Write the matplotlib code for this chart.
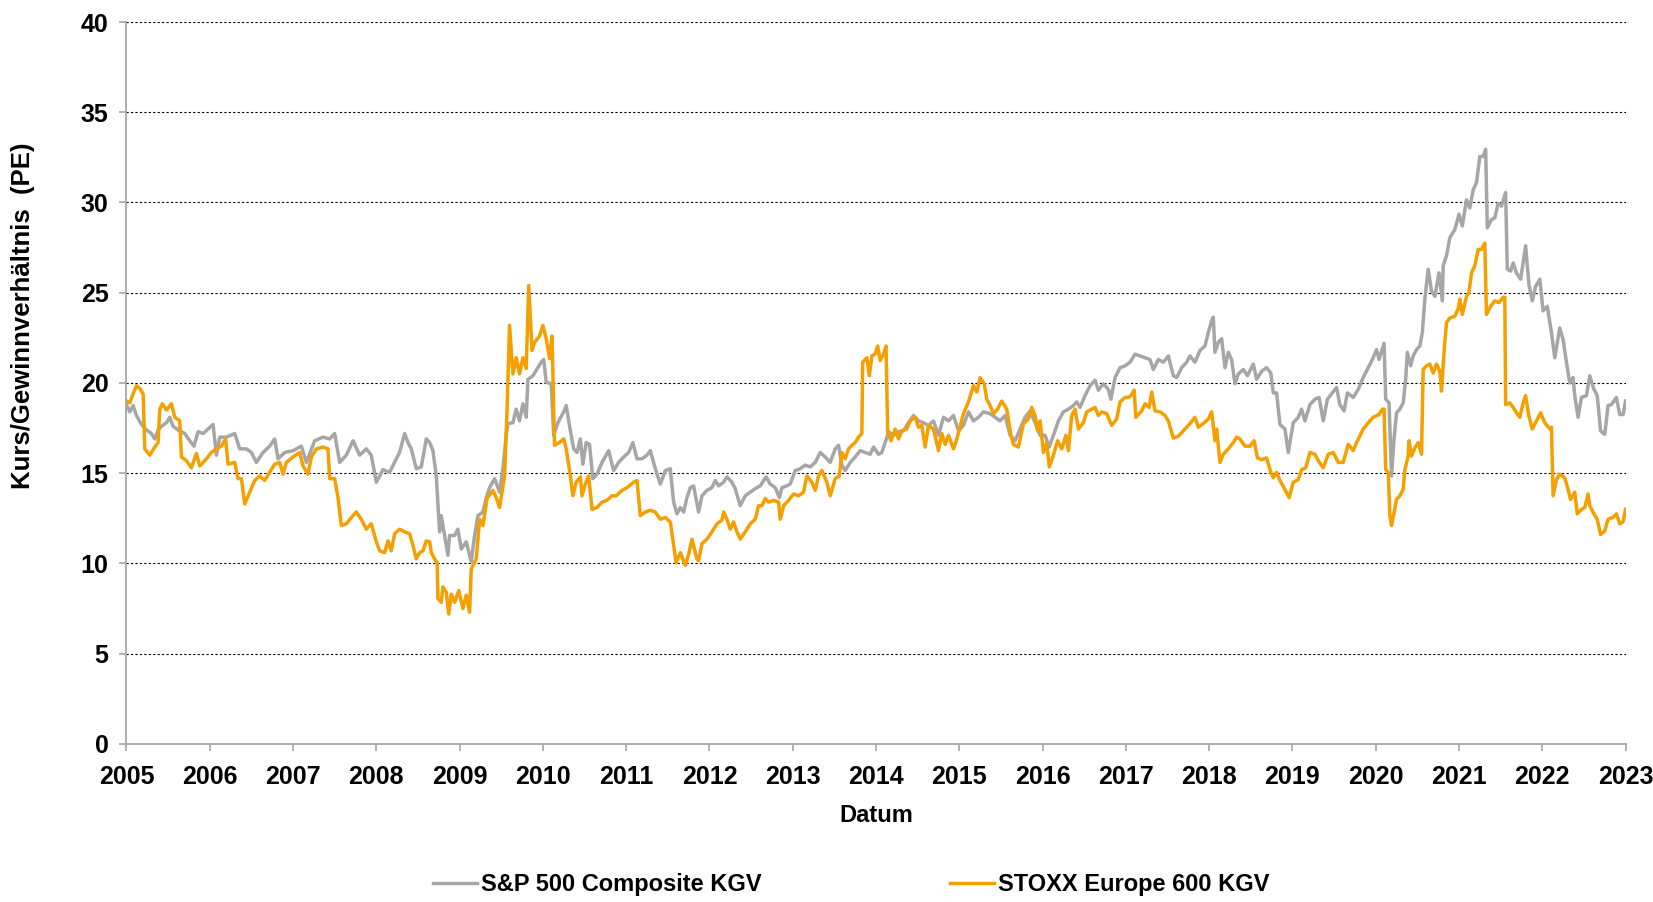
# KGV comparison S&P 500 vs STOXX Europe 600, 2005-2023
# line chart, decimal years on the x axis

import matplotlib
matplotlib.use('Agg')
import matplotlib.pyplot as plt
from matplotlib import font_manager

# S&P 500 Composite KGV
sp_years = [
    2005.00, 2005.04, 2005.08, 2005.12, 2005.18, 2005.24, 2005.30, 2005.34, 2005.38, 2005.42,
    2005.48, 2005.52, 2005.56, 2005.62, 2005.70, 2005.76, 2005.81, 2005.86, 2005.92, 2005.98,
    2006.04, 2006.08, 2006.12, 2006.20, 2006.30, 2006.36, 2006.44, 2006.50, 2006.56, 2006.64,
    2006.72, 2006.78, 2006.82, 2006.90, 2007.00, 2007.10, 2007.16, 2007.26, 2007.36, 2007.44,
    2007.50, 2007.56, 2007.64, 2007.72, 2007.80, 2007.88, 2007.94, 2008.00, 2008.08, 2008.16,
    2008.24, 2008.28, 2008.34, 2008.38, 2008.42, 2008.48, 2008.54, 2008.60, 2008.64, 2008.68,
    2008.72, 2008.76, 2008.78, 2008.82, 2008.86, 2008.88, 2008.94, 2008.98, 2009.02, 2009.08,
    2009.14, 2009.18, 2009.22, 2009.28, 2009.32, 2009.36, 2009.42, 2009.48, 2009.52, 2009.56,
    2009.58, 2009.64, 2009.68, 2009.72, 2009.76, 2009.80, 2009.82, 2009.88, 2009.94, 2009.98,
    2010.01, 2010.04, 2010.10, 2010.13, 2010.18, 2010.25, 2010.28, 2010.33, 2010.37, 2010.41,
    2010.45, 2010.48, 2010.52, 2010.56, 2010.60, 2010.65, 2010.71, 2010.79, 2010.85, 2010.91,
    2010.97, 2011.03, 2011.08, 2011.13, 2011.19, 2011.25, 2011.29, 2011.35, 2011.41, 2011.47,
    2011.53, 2011.57, 2011.61, 2011.65, 2011.69, 2011.73, 2011.77, 2011.81, 2011.87, 2011.91,
    2011.97, 2012.03, 2012.07, 2012.11, 2012.17, 2012.21, 2012.27, 2012.31, 2012.37, 2012.43,
    2012.49, 2012.55, 2012.61, 2012.68, 2012.73, 2012.79, 2012.84, 2012.87, 2012.93, 2012.97,
    2013.03, 2013.09, 2013.15, 2013.21, 2013.27, 2013.33, 2013.39, 2013.45, 2013.51, 2013.55,
    2013.59, 2013.63, 2013.69, 2013.75, 2013.81, 2013.87, 2013.93, 2013.97, 2014.03, 2014.07,
    2014.11, 2014.15, 2014.21, 2014.27, 2014.33, 2014.39, 2014.45, 2014.51, 2014.57, 2014.63,
    2014.69, 2014.75, 2014.81, 2014.87, 2014.93, 2014.99, 2015.05, 2015.11, 2015.17, 2015.23,
    2015.29, 2015.37, 2015.43, 2015.49, 2015.55, 2015.61, 2015.67, 2015.73, 2015.79, 2015.85,
    2015.91, 2015.97, 2016.03, 2016.08, 2016.13, 2016.19, 2016.25, 2016.31, 2016.37, 2016.41,
    2016.45, 2016.51, 2016.57, 2016.63, 2016.67, 2016.73, 2016.79, 2016.82, 2016.87, 2016.93,
    2016.99, 2017.05, 2017.11, 2017.17, 2017.23, 2017.29, 2017.33, 2017.39, 2017.45, 2017.51,
    2017.57, 2017.61, 2017.67, 2017.73, 2017.77, 2017.83, 2017.89, 2017.95, 2017.99, 2018.03,
    2018.05, 2018.07, 2018.11, 2018.15, 2018.19, 2018.23, 2018.27, 2018.31, 2018.35, 2018.41,
    2018.46, 2018.53, 2018.57, 2018.63, 2018.69, 2018.74, 2018.77, 2018.81, 2018.85, 2018.91,
    2018.95, 2019.01, 2019.07, 2019.11, 2019.15, 2019.21, 2019.27, 2019.32, 2019.37, 2019.42,
    2019.48, 2019.53, 2019.57, 2019.62, 2019.66, 2019.73, 2019.79, 2019.85, 2019.91, 2019.97,
    2020.01, 2020.04, 2020.10, 2020.12, 2020.16, 2020.19, 2020.22, 2020.25, 2020.29, 2020.33,
    2020.36, 2020.38, 2020.42, 2020.45, 2020.49, 2020.53, 2020.56, 2020.59, 2020.63, 2020.67,
    2020.71, 2020.76, 2020.80, 2020.81, 2020.85, 2020.89, 2020.95, 2021.00, 2021.04, 2021.09,
    2021.13, 2021.17, 2021.21, 2021.25, 2021.29, 2021.32, 2021.34, 2021.39, 2021.43, 2021.47,
    2021.51, 2021.56, 2021.58, 2021.62, 2021.65, 2021.69, 2021.74, 2021.80, 2021.84, 2021.88,
    2021.92, 2021.97, 2022.01, 2022.06, 2022.11, 2022.15, 2022.21, 2022.25, 2022.29, 2022.33,
    2022.37, 2022.39, 2022.43, 2022.47, 2022.53, 2022.57, 2022.62, 2022.66, 2022.70, 2022.75,
    2022.79, 2022.83, 2022.89, 2022.93, 2022.97, 2023.00,
]
sp_pe = [
    18.8, 18.4, 18.75, 18.2, 17.7, 17.4, 17.2, 16.9, 17.4, 17.6,
    17.8, 18.1, 17.6, 17.4, 17.2, 16.8, 16.5, 17.3, 17.2, 17.45,
    17.7, 16.0, 17.0, 17.0, 17.2, 16.35, 16.35, 16.15, 15.6, 16.15,
    16.5, 16.9, 15.8, 16.15, 16.25, 16.5, 15.6, 16.8, 17.0, 16.9,
    17.2, 15.6, 16.0, 16.8, 16.0, 16.35, 16.0, 14.5, 15.2, 15.05,
    15.8, 16.16, 17.2, 16.7, 16.35, 15.25, 15.35, 16.9, 16.7, 16.25,
    14.85, 11.75, 12.65, 11.55, 10.45, 11.55, 11.55, 11.9, 10.8, 11.2,
    10.1, 11.55, 12.65, 12.85, 13.65, 14.2, 14.7, 13.95, 15.25, 17.1,
    17.75, 17.8, 18.55, 17.9, 18.85, 18.1, 20.2, 20.4, 20.85, 21.15,
    21.3, 20.05, 19.95, 17.1, 17.8, 18.4, 18.75, 17.35, 16.35, 16.15,
    16.9, 15.5, 16.7, 16.6, 14.7, 14.95, 15.6, 16.25, 15.15, 15.6,
    15.9, 16.15, 16.7, 15.8, 15.8, 16.0, 16.25, 15.25, 14.4, 15.15,
    15.25, 13.4, 12.75, 13.1, 12.85, 13.65, 14.2, 14.3, 12.85, 13.75,
    14.05, 14.2, 14.6, 14.3, 14.5, 14.8, 14.5, 14.15, 13.2, 13.75,
    13.95, 14.15, 14.3, 14.8, 14.4, 14.2, 13.65, 14.2, 14.3, 14.4,
    15.15, 15.25, 15.45, 15.35, 15.6, 16.15, 15.9, 15.6, 16.35, 16.55,
    15.45, 15.15, 15.6, 15.9, 16.25, 16.15, 16.05, 16.45, 16.05, 16.15,
    16.7, 17.3, 17.1, 17.3, 17.35, 17.8, 18.2, 17.9, 17.8, 17.65,
    17.9, 17.1, 18.1, 17.9, 18.2, 17.35, 17.65, 18.4, 17.9, 18.1,
    18.4, 18.3, 18.1, 17.9, 18.2, 17.1, 16.8, 17.45, 18.1, 18.45,
    17.8, 17.1, 17.1, 16.45, 17.1, 17.9, 18.4, 18.55, 18.75, 18.95,
    18.65, 19.3, 19.85, 20.15, 19.6, 19.95, 19.65, 19.1, 20.3, 20.85,
    20.95, 21.15, 21.6, 21.5, 21.4, 21.3, 20.75, 21.3, 21.15, 21.5,
    20.4, 20.3, 20.85, 21.15, 21.5, 21.15, 21.8, 22.05, 22.8, 23.45,
    23.65, 21.7, 22.25, 22.45, 20.85, 21.7, 21.3, 19.95, 20.5, 20.75,
    20.4, 21.05, 20.2, 20.65, 20.85, 20.55, 19.45, 19.45, 17.7, 17.45,
    16.15, 17.8, 18.1, 18.55, 17.9, 18.8, 19.1, 19.2, 17.9, 19.1,
    19.45, 19.75, 18.8, 18.45, 19.45, 19.2, 19.65, 20.3, 20.85, 21.4,
    21.85, 21.3, 22.2, 19.1, 18.9, 14.85, 16.9, 18.35, 18.55, 18.9,
    20.2, 21.7, 20.95, 21.5, 21.85, 22.05, 22.8, 24.65, 26.3, 25.1,
    24.8, 26.1, 24.55, 26.5, 27.05, 28.05, 28.5, 29.35, 28.7, 30.15,
    29.7, 30.7, 31.1, 32.55, 32.55, 32.95, 28.6, 29.05, 29.15, 29.95,
    29.8, 30.55, 26.3, 26.2, 26.65, 26.1, 25.75, 27.6, 25.45, 24.55,
    25.35, 25.75, 24.0, 24.25, 22.8, 21.4, 23.05, 22.4, 21.15, 20.0,
    20.3, 19.3, 18.1, 19.2, 19.3, 20.4, 19.65, 19.3, 17.35, 17.15,
    18.75, 18.8, 19.2, 18.25, 18.25, 19.0,
]

# STOXX Europe 600 KGV
stoxx_years = [
    2005.00, 2005.04, 2005.08, 2005.12, 2005.16, 2005.20, 2005.22, 2005.28, 2005.34, 2005.38,
    2005.40, 2005.43, 2005.48, 2005.54, 2005.58, 2005.64, 2005.66, 2005.72, 2005.78, 2005.84,
    2005.88, 2005.96, 2006.02, 2006.08, 2006.14, 2006.19, 2006.22, 2006.30, 2006.34, 2006.38,
    2006.42, 2006.48, 2006.54, 2006.60, 2006.66, 2006.72, 2006.78, 2006.84, 2006.88, 2006.92,
    2007.00, 2007.08, 2007.12, 2007.18, 2007.22, 2007.28, 2007.36, 2007.42, 2007.44, 2007.50,
    2007.54, 2007.58, 2007.64, 2007.70, 2007.76, 2007.82, 2007.88, 2007.94, 2008.00, 2008.04,
    2008.10, 2008.14, 2008.18, 2008.22, 2008.28, 2008.34, 2008.40, 2008.44, 2008.48, 2008.52,
    2008.56, 2008.60, 2008.64, 2008.66, 2008.70, 2008.73, 2008.74, 2008.78, 2008.80, 2008.84,
    2008.87, 2008.90, 2008.94, 2008.99, 2009.04, 2009.08, 2009.12, 2009.14, 2009.20, 2009.24,
    2009.28, 2009.33, 2009.40, 2009.44, 2009.48, 2009.54, 2009.57, 2009.60, 2009.64, 2009.68,
    2009.72, 2009.76, 2009.80, 2009.83, 2009.87, 2009.90, 2009.96, 2010.00, 2010.04, 2010.08,
    2010.11, 2010.14, 2010.20, 2010.25, 2010.28, 2010.33, 2010.36, 2010.40, 2010.45, 2010.47,
    2010.51, 2010.55, 2010.59, 2010.65, 2010.71, 2010.77, 2010.83, 2010.88, 2010.95, 2011.01,
    2011.09, 2011.13, 2011.17, 2011.23, 2011.29, 2011.35, 2011.41, 2011.47, 2011.53, 2011.57,
    2011.60, 2011.65, 2011.71, 2011.75, 2011.79, 2011.85, 2011.87, 2011.91, 2011.97, 2012.03,
    2012.09, 2012.15, 2012.17, 2012.21, 2012.25, 2012.29, 2012.33, 2012.37, 2012.43, 2012.49,
    2012.55, 2012.59, 2012.63, 2012.67, 2012.71, 2012.77, 2012.83, 2012.85, 2012.89, 2012.95,
    2013.01, 2013.07, 2013.13, 2013.17, 2013.23, 2013.27, 2013.31, 2013.35, 2013.41, 2013.45,
    2013.51, 2013.56, 2013.59, 2013.63, 2013.67, 2013.71, 2013.75, 2013.79, 2013.83, 2013.84,
    2013.89, 2013.92, 2013.95, 2013.99, 2014.02, 2014.05, 2014.09, 2014.12, 2014.14, 2014.18,
    2014.23, 2014.27, 2014.31, 2014.37, 2014.41, 2014.47, 2014.51, 2014.55, 2014.59, 2014.63,
    2014.69, 2014.75, 2014.79, 2014.83, 2014.87, 2014.93, 2014.97, 2015.05, 2015.11, 2015.17,
    2015.21, 2015.25, 2015.30, 2015.33, 2015.37, 2015.41, 2015.46, 2015.51, 2015.57, 2015.62,
    2015.65, 2015.71, 2015.77, 2015.83, 2015.87, 2015.91, 2015.94, 2015.97, 2016.01, 2016.05,
    2016.08, 2016.13, 2016.18, 2016.23, 2016.28, 2016.31, 2016.35, 2016.39, 2016.43, 2016.49,
    2016.53, 2016.59, 2016.63, 2016.67, 2016.71, 2016.77, 2016.83, 2016.89, 2016.93, 2016.99,
    2017.03, 2017.06, 2017.10, 2017.12, 2017.19, 2017.23, 2017.28, 2017.31, 2017.35, 2017.41,
    2017.47, 2017.51, 2017.57, 2017.63, 2017.69, 2017.77, 2017.83, 2017.87, 2017.93, 2017.99,
    2018.03, 2018.07, 2018.09, 2018.13, 2018.17, 2018.23, 2018.29, 2018.33, 2018.37, 2018.43,
    2018.49, 2018.54, 2018.58, 2018.63, 2018.69, 2018.74, 2018.77, 2018.81, 2018.85, 2018.91,
    2018.96, 2019.01, 2019.07, 2019.11, 2019.16, 2019.21, 2019.27, 2019.31, 2019.37, 2019.43,
    2019.49, 2019.55, 2019.61, 2019.67, 2019.73, 2019.77, 2019.85, 2019.91, 2019.97, 2020.04,
    2020.08, 2020.10, 2020.12, 2020.15, 2020.17, 2020.19, 2020.22, 2020.25, 2020.29, 2020.33,
    2020.35, 2020.39, 2020.40, 2020.43, 2020.47, 2020.51, 2020.55, 2020.57, 2020.61, 2020.65,
    2020.69, 2020.73, 2020.77, 2020.79, 2020.82, 2020.85, 2020.89, 2020.95, 2020.99, 2021.01,
    2021.04, 2021.09, 2021.12, 2021.15, 2021.19, 2021.23, 2021.27, 2021.31, 2021.33, 2021.38,
    2021.43, 2021.48, 2021.53, 2021.55, 2021.56, 2021.61, 2021.65, 2021.69, 2021.73, 2021.77,
    2021.80, 2021.84, 2021.88, 2021.93, 2021.98, 2022.03, 2022.09, 2022.11, 2022.13, 2022.17,
    2022.21, 2022.27, 2022.31, 2022.34, 2022.39, 2022.42, 2022.47, 2022.51, 2022.55, 2022.57,
    2022.62, 2022.66, 2022.70, 2022.75, 2022.79, 2022.85, 2022.89, 2022.93, 2022.97, 2023.00,
]
stoxx_pe = [
    19.0, 18.9, 19.4, 19.85, 19.7, 19.4, 16.35, 16.0, 16.45, 16.7,
    18.55, 18.85, 18.5, 18.85, 18.1, 17.9, 15.9, 15.7, 15.3, 16.1,
    15.4, 15.8, 16.15, 16.35, 16.5, 16.9, 15.5, 15.6, 14.7, 14.7,
    13.3, 13.95, 14.6, 14.85, 14.6, 15.05, 15.5, 15.6, 14.95, 15.6,
    15.9, 16.15, 15.4, 14.95, 15.9, 16.35, 16.45, 16.35, 14.7, 14.7,
    13.65, 12.1, 12.2, 12.55, 12.85, 12.45, 11.9, 12.2, 11.2, 10.7,
    10.6, 11.25, 10.7, 11.65, 11.9, 11.75, 11.65, 11.0, 10.25, 10.6,
    10.7, 11.25, 11.2, 10.6, 10.25, 10.05, 8.05, 7.85, 8.7, 8.4,
    7.2, 8.3, 7.85, 8.5, 7.5, 8.25, 7.3, 9.7, 10.25, 12.45,
    12.1, 13.6, 14.05, 13.65, 13.1, 14.85, 18.55, 23.2, 20.5, 21.4,
    20.5, 21.4, 20.8, 25.4, 21.8, 22.25, 22.6, 23.2, 22.45, 21.35,
    22.6, 16.55, 16.7, 16.9, 16.35, 14.85, 13.75, 14.5, 14.8, 13.75,
    14.4, 14.85, 13.0, 13.1, 13.4, 13.5, 13.75, 13.75, 14.05, 14.2,
    14.5, 14.6, 12.65, 12.85, 12.95, 12.85, 12.45, 12.55, 12.3, 11.0,
    10.05, 10.6, 9.9, 10.5, 11.35, 10.25, 10.15, 11.1, 11.35, 11.75,
    12.2, 12.4, 12.85, 12.45, 11.9, 12.3, 11.75, 11.35, 11.75, 12.2,
    12.45, 13.2, 13.2, 13.6, 13.4, 13.5, 13.4, 12.45, 13.2, 13.5,
    13.85, 13.75, 13.95, 14.85, 14.5, 14.05, 14.85, 15.15, 14.5, 13.75,
    14.7, 14.85, 16.15, 15.8, 16.35, 16.55, 16.7, 17.0, 17.2, 21.15,
    21.4, 20.4, 21.5, 21.6, 22.05, 21.25, 21.6, 22.05, 17.3, 16.8,
    17.45, 16.9, 17.35, 17.45, 17.9, 18.1, 17.55, 17.65, 16.45, 17.65,
    17.45, 16.25, 17.2, 16.6, 17.1, 16.35, 16.9, 18.3, 18.95, 19.85,
    19.5, 20.3, 19.95, 19.1, 18.75, 18.3, 18.55, 19.0, 18.55, 17.1,
    16.6, 16.45, 17.75, 18.0, 18.65, 18.2, 17.35, 17.9, 16.15, 16.7,
    15.35, 16.0, 16.8, 16.35, 17.1, 16.25, 18.2, 18.55, 17.45, 17.8,
    18.4, 18.55, 18.65, 18.2, 18.4, 18.3, 17.65, 18.0, 18.95, 19.2,
    19.2, 19.3, 19.6, 18.1, 18.45, 18.85, 18.65, 19.5, 18.45, 18.4,
    18.2, 17.9, 16.95, 17.05, 17.35, 17.75, 18.1, 17.55, 17.75, 18.0,
    18.4, 16.8, 17.45, 15.6, 16.05, 16.35, 16.7, 17.0, 16.9, 16.5,
    16.5, 16.8, 15.85, 15.75, 15.85, 15.05, 14.75, 15.05, 14.6, 14.1,
    13.65, 14.5, 14.65, 15.2, 15.3, 16.15, 16.05, 15.7, 15.3, 16.05,
    16.15, 15.6, 15.6, 16.6, 16.25, 16.7, 17.45, 17.8, 18.1, 18.25,
    18.55, 18.55, 15.2, 15.05, 12.65, 12.1, 12.8, 13.55, 13.75, 14.1,
    15.2, 15.95, 16.8, 15.95, 16.4, 16.7, 16.05, 20.75, 20.95, 21.05,
    20.55, 21.05, 20.65, 19.55, 21.7, 23.35, 23.6, 23.7, 24.1, 24.65,
    23.8, 24.8, 25.0, 26.1, 26.5, 27.4, 27.4, 27.75, 23.8, 24.25,
    24.55, 24.45, 24.75, 24.75, 18.8, 18.9, 18.65, 18.35, 18.1, 18.9,
    19.3, 18.15, 17.45, 17.9, 18.35, 17.8, 17.45, 17.55, 13.75, 14.65,
    14.95, 14.75, 14.1, 13.55, 13.95, 12.75, 13.0, 13.1, 13.85, 13.2,
    12.75, 12.45, 11.6, 11.8, 12.45, 12.55, 12.75, 12.2, 12.3, 13.0,
]

year_ticks = list(range(2005, 2024))
pe_ticks = [0, 5, 10, 15, 20, 25, 30, 35, 40]

# fonts: the reference uses a narrow bold face for ticks and legend
names = {f.name for f in font_manager.fontManager.ttflist}
narrow = 'Liberation Sans Narrow' if 'Liberation Sans Narrow' in names else 'Liberation Sans'
tick_font = {'family': narrow, 'weight': 'bold', 'size': 18}
label_font = {'family': 'Liberation Sans', 'weight': 'bold', 'size': 17}

fig = plt.figure(figsize=(16.53, 9.02), dpi=100)
ax = fig.add_axes([0.0765, 0.1752, 0.9069, 0.8004])

ax.plot(sp_years, sp_pe, color='#a6a6a6', linewidth=2.5, label='S&P 500 Composite KGV')
ax.plot(stoxx_years, stoxx_pe, color='#f5a000', linewidth=2.5, label='STOXX Europe 600 KGV')

ax.set_xlim(2005, 2023)
ax.set_ylim(0, 40)
ax.set_xticks(year_ticks)
ax.set_xticklabels([str(y) for y in year_ticks], fontdict=tick_font)
ax.set_yticks(pe_ticks)
ax.set_yticklabels([str(v) for v in pe_ticks], fontdict=tick_font)

for v in pe_ticks[1:]:
    ax.axhline(v, color='black', linewidth=0.8, linestyle=(0, (2, 2)), zorder=0)

for side in ['top', 'right']:
    ax.spines[side].set_visible(False)
for side in ['left', 'bottom']:
    ax.spines[side].set_color('#a6a6a6')
    ax.spines[side].set_linewidth(1.3)
ax.tick_params(axis='y', length=5, width=1.2, color='#a6a6a6', pad=8)
ax.tick_params(axis='x', length=5, width=1.2, color='#a6a6a6', pad=10)

ax.set_xlabel('Datum', fontdict=label_font)
ax.xaxis.set_label_coords(0.5, -0.083)
ax.set_ylabel('Kurs/Gewinnverhältnis  (PE)', fontdict={**label_font, 'size': 18.5})
ax.yaxis.set_label_coords(-0.061, 0.593)

fig.legend(loc='center', bbox_to_anchor=(0.515, 0.019), ncol=2, frameon=False,
           handlelength=1.86, handletextpad=0.15, columnspacing=8.0,
           prop={'family': narrow, 'weight': 'bold', 'size': 17})

plt.savefig('out.png', dpi=100)
